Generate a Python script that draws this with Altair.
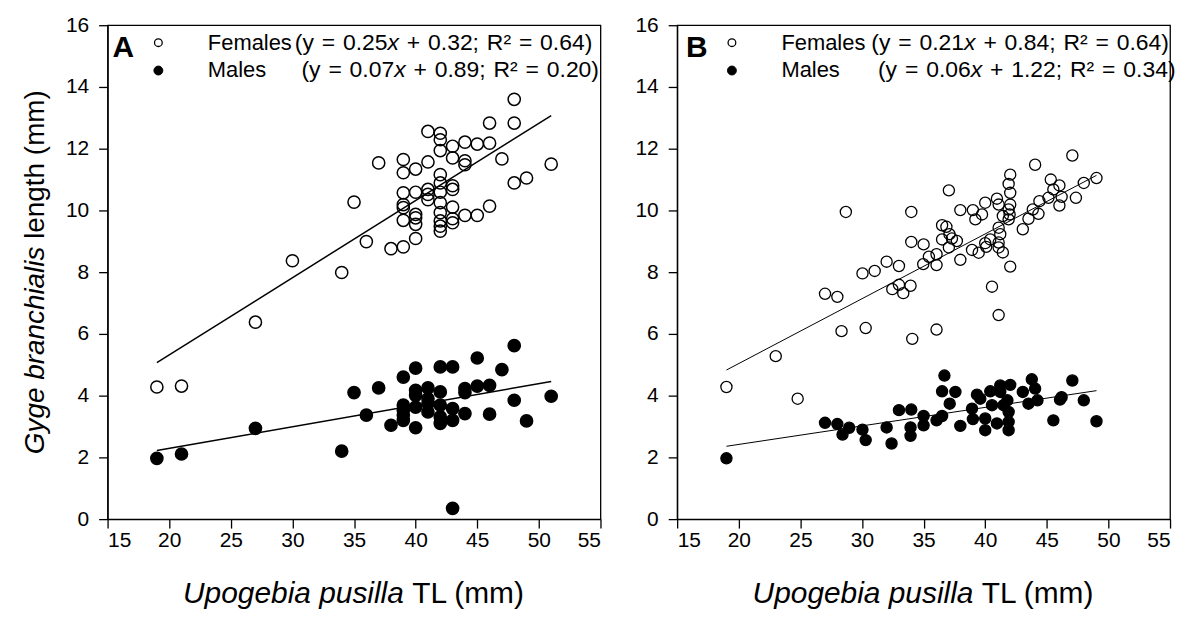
import altair as alt
import pandas as pd

# ---------------- data ----------------
# Panel A
a_fem_x = [48, 48, 46, 41, 42, 42, 42, 43, 44, 45, 46, 43, 44, 44, 47, 51, 37, 39, 39, 40,
           41, 42, 42, 42, 43, 43, 49, 48, 39, 40, 41, 41, 41, 39, 39, 42, 42, 43, 46, 35,
           40, 40, 40, 39, 42, 42, 42, 43, 43, 44, 45, 40, 36, 38, 39, 30, 34, 27, 19, 21]
a_fem_y = [13.6, 12.83, 12.83, 12.56, 12.5, 12.29, 11.94, 12.08, 12.21, 12.15, 12.18, 11.7, 11.61, 11.48,
           11.67, 11.5, 11.54, 11.65, 11.22, 11.34, 11.57, 11.16, 10.89, 10.59, 10.8, 10.68, 11.05, 10.89,
           10.57, 10.59, 10.68, 10.52, 10.35, 10.19, 10.09, 10.25, 9.93, 10.11, 10.14, 10.27, 9.87, 9.76,
           9.55, 9.68, 9.66, 9.49, 9.33, 9.73, 9.6, 9.84, 9.84, 9.09, 8.99, 8.76, 8.82, 8.37, 7.99, 6.38,
           4.28, 4.31]
a_mal_x = [19, 21, 27, 34, 35, 37, 36, 38, 39, 39, 39, 39, 39, 40, 40, 40, 40, 40, 41, 41, 41, 41,
           42, 42, 42, 42, 42, 43, 43, 43, 43, 44, 44, 44, 45, 45, 46, 46, 47, 48, 48, 49, 51]
a_mal_y = [1.97, 2.11, 2.94, 2.2, 4.1, 4.25, 3.37, 3.04, 4.6, 3.69, 3.53, 3.37, 3.2, 4.89, 4.17, 4.01,
           3.63, 2.96, 4.25, 3.9, 3.74, 3.47, 4.93, 4.12, 3.69, 3.31, 3.1, 4.93, 3.58, 3.2, 0.35, 4.23,
           4.1, 3.42, 5.22, 4.31, 4.33, 3.4, 4.84, 5.62, 3.85, 3.18, 3.98]

# Panel B
b_fem_x = [19.0, 23.0, 24.78, 27.0, 28.0, 28.34, 28.69, 30.3, 30.04, 31.03, 32.0, 33.0, 32.46, 33.0,
           33.35, 33.94, 34.08, 34.0, 34.0, 35.0, 34.97, 35.43, 36.05, 36.05, 36.05, 36.5, 36.85, 37.05,
           36.5, 37.1, 37.3, 37.7, 37.05, 37.98, 37.98, 39.0, 39.2, 39.74, 40.0, 38.93, 39.47, 40.0,
           40.08, 40.41, 40.95, 41.09, 41.09, 41.22, 41.09, 41.09, 41.43, 40.55, 41.09, 42.03, 41.9,
           42.03, 42.03, 41.9, 41.98, 41.9, 41.43, 42.03, 43.05, 43.51, 43.86, 44.32, 44.05, 44.4,
           45.13, 45.32, 45.53, 46.02, 46.2, 46.02, 47.07, 47.36, 48.0, 49.03]
b_fem_y = [4.28, 5.28, 3.9, 7.3, 7.2, 6.09, 9.95, 6.19, 7.96, 8.04, 8.34, 8.2, 7.45, 7.59, 7.32, 7.56,
           5.84, 9.95, 8.98, 8.9, 8.26, 8.5, 8.58, 8.23, 6.14, 9.52, 9.47, 10.65, 9.06, 9.23, 9.09, 9.01,
           8.8, 10.01, 8.4, 10.01, 9.71, 9.87, 10.25, 8.72, 8.63, 8.94, 8.82, 9.06, 10.38, 10.19, 9.44,
           9.23, 8.96, 8.8, 8.64, 7.53, 6.61, 11.16, 10.86, 10.57, 10.19, 10.03, 9.87, 9.71, 9.82, 8.18,
           9.39, 9.73, 10.03, 9.89, 11.48, 10.3, 10.41, 11.0, 10.68, 10.81, 10.44, 10.16, 11.78, 10.41,
           10.89, 11.05]
b_mal_x = [19.0, 27.0, 28.0, 28.42, 28.96, 30.04, 30.3, 32.0, 32.4, 33.0, 34.0, 33.94, 33.94, 35.0,
           35.0, 36.05, 36.5, 36.69, 36.5, 37.12, 37.58, 37.98, 38.93, 39.0, 39.33, 39.6, 40.0, 40.0,
           40.41, 40.55, 40.95, 41.22, 41.22, 41.49, 41.9, 41.9, 41.9, 42.03, 41.8, 43.05, 43.78, 44.05,
           43.51, 44.24, 45.53, 46.07, 46.2, 47.07, 48.0, 49.03]
b_mal_y = [1.97, 3.12, 3.08, 2.74, 2.96, 2.9, 2.56, 2.97, 2.45, 3.53, 3.55, 2.97, 2.7, 3.34, 3.04, 3.2,
           3.34, 4.65, 4.14, 3.74, 4.12, 3.02, 3.58, 3.24, 4.03, 3.9, 3.26, 2.88, 4.14, 3.69, 3.1, 4.33,
           4.12, 3.69, 3.47, 3.15, 2.88, 4.35, 3.85, 4.12, 4.53, 4.23, 3.74, 3.85, 3.2, 3.87, 3.95, 4.49,
           3.85, 3.17]

# regression equations shown in the legends (slope, intercept, R²)
a_fem_fit = (0.25, 0.32, "0.64")
a_mal_fit = (0.07, 0.89, "0.20")
b_fem_fit = (0.21, 0.84, "0.64")
b_mal_fit = (0.06, 1.22, "0.34")

x_ticks = [15, 20, 25, 30, 35, 40, 45, 50, 55]
y_ticks = [0, 2, 4, 6, 8, 10, 12, 14, 16]

# ---------------- style ----------------
FONT = "Liberation Sans"
W, H = 495, 496
XDOM, YDOM = [15, 55], [0, 16]
PXX = W / (XDOM[1] - XDOM[0])
PXY = H / (YDOM[1] - YDOM[0])
LEG_FS = 22
EQ_FS = 23
EQ_SP = 1.5
XT_FS = 30
YT_FS = 28

# Arial / Liberation Sans advance widths (per 1000 em)
CW = {' ': 278, '(': 333, ')': 333, '+': 584, '=': 584, '.': 278, ';': 278, 'y': 500, 'x': 500,
      'R': 722, '\u00b2': 333, 'F': 611, 'e': 556, 'm': 833, 'a': 556, 'l': 222, 's': 500, 'M': 833,
      'G': 778, 'g': 556, 'b': 556, 'r': 333, 'n': 556, 'c': 500, 'h': 556, 'i': 222, 't': 278,
      'U': 722, 'p': 556, 'o': 556, 'u': 556, 'T': 611, 'L': 556}


def tw(s, fs):
    return sum(CW.get(c, 556) for c in s) * fs / 1000.0


xs = alt.Scale(domain=XDOM, nice=False, zero=False)
ys = alt.Scale(domain=YDOM, nice=False, zero=False)
AXSTYLE = dict(title="", format="d", domainColor="black", domainWidth=1.3, tickColor="black",
               tickWidth=1.3, labelFont=FONT, labelFontSize=21, labelColor="black", grid=False)
XAX = alt.Axis(values=x_ticks, tickSize=9, labelPadding=2, **AXSTYLE)
YAX = alt.Axis(values=y_ticks, tickSize=9, labelPadding=10, **AXSTYLE)
one = pd.DataFrame({"x": [15.0], "y": [0.0]})


def xenc():
    return alt.X("x:Q", scale=xs, axis=XAX)


def yenc():
    return alt.Y("y:Q", scale=ys, axis=YAX)


def px_x(p):
    return XDOM[0] + p / PXX


def px_y(p):
    return YDOM[1] - p / PXY


def text_at(px, py, txt, fs, italic=False, bold=False, dx=0.0):
    df = pd.DataFrame({"x": [px_x(px)], "y": [px_y(py)]})
    return alt.Chart(df).mark_text(
        text=txt, font=FONT, fontSize=fs, align="left", baseline="alphabetic", dx=dx,
        fontStyle="italic" if italic else "normal", fontWeight="bold" if bold else "normal",
        color="black").encode(x=xenc(), y=yenc())


def rich(px, py, parts, fs, extra):
    """Write a line made of (text, italic) parts, word by word, with slightly wider spaces."""
    layers = []
    off = 0.0
    for s, it in parts:
        tokens = s.split(' ')
        for i, tok in enumerate(tokens):
            if i > 0:
                off += tw(' ', fs) + extra
            if tok:
                layers.append(text_at(px, py, tok, fs, italic=it, dx=off))
                off += tw(tok, fs)
    return layers


def eq_parts(fit):
    a, b, r2 = fit
    return [("(y = %.2f" % a, False), ("x", True), (" + %.2f; R\u00b2 = %s)" % (b, r2), False)]


def pix_text(txt, fs, xv, yv, italic=False, angle=None):
    kw = dict(text=txt, font=FONT, fontSize=fs, align="left", baseline="middle", color="black",
              fontStyle="italic" if italic else "normal")
    if angle is not None:
        kw["angle"] = angle
    return alt.Chart(one).mark_text(**kw).encode(x=alt.value(xv), y=alt.value(yv))


def panel(fx, fy, mx, my, ffit, mfit, letter, shift, eshift, psize, pstroke, lwidth, ytitle):
    fem = pd.DataFrame({"x": fx, "y": fy})
    mal = pd.DataFrame({"x": mx, "y": my})
    x0f, x1f = min(fx), max(fx)
    x0m, x1m = min(mx), max(mx)
    fline = pd.DataFrame({"x": [x0f, x1f], "y": [ffit[0] * x0f + ffit[1], ffit[0] * x1f + ffit[1]]})
    mline = pd.DataFrame({"x": [x0m, x1m], "y": [mfit[0] * x0m + mfit[1], mfit[0] * x1m + mfit[1]]})

    layers = [
        alt.Chart(fline).mark_line(color="black", strokeWidth=lwidth).encode(x=xenc(), y=yenc()),
        alt.Chart(mline).mark_line(color="black", strokeWidth=lwidth).encode(x=xenc(), y=yenc()),
        alt.Chart(fem).mark_point(shape="circle", filled=False, stroke="black", strokeWidth=pstroke,
                                  size=psize, opacity=1).encode(x=xenc(), y=yenc()),
        alt.Chart(mal).mark_point(shape="circle", filled=True, fill="black", stroke="black",
                                  strokeWidth=pstroke, size=psize, opacity=1).encode(x=xenc(), y=yenc()),
    ]
    s = shift
    leg_o = pd.DataFrame({"x": [px_x(51 + s)], "y": [px_y(17.5)]})
    leg_f = pd.DataFrame({"x": [px_x(51 + s)], "y": [px_y(45.5)]})
    layers.append(alt.Chart(leg_o).mark_point(shape="circle", filled=False, stroke="black",
                                              strokeWidth=1.3, size=60, opacity=1)
                  .encode(x=xenc(), y=yenc()))
    layers.append(alt.Chart(leg_f).mark_point(shape="circle", filled=True, fill="black",
                                              stroke="black", strokeWidth=1, size=80, opacity=1)
                  .encode(x=xenc(), y=yenc()))
    layers.append(text_at(5 + s, 32, letter, 30, bold=True))
    layers.append(text_at(100.7 + s, 24.5, "Females", LEG_FS))
    layers.append(text_at(100.7 + s, 52, "Males", LEG_FS))
    layers += rich(188 + eshift, 24.5, eq_parts(ffit), EQ_FS, EQ_SP)
    layers += rich(194.7 + eshift, 52, eq_parts(mfit), EQ_FS, EQ_SP)

    # x-axis title (mixed italic / roman)
    p1, p2 = "Upogebia pusilla", "TL (mm)"
    total = tw(p1 + " " + p2, XT_FS)
    start = W / 2 - total / 2
    layers.append(pix_text(p1, XT_FS, start, H + 75, italic=True))
    layers.append(pix_text(p2, XT_FS, start + tw(p1 + " ", XT_FS), H + 75))
    if ytitle:
        q1, q2 = "Gyge branchialis", "length (mm)"
        tot = tw(q1 + " " + q2, YT_FS)
        bottom = H / 2 + tot / 2
        pivot = bottom - tw(q1 + " ", YT_FS)
        layers.append(pix_text(q1, YT_FS, -72, bottom, italic=True, angle=270))
        layers.append(pix_text(q2, YT_FS, -72, pivot, angle=270))
    return alt.layer(*layers).properties(width=W, height=H)


pa = panel(a_fem_x, a_fem_y, a_mal_x, a_mal_y, a_fem_fit, a_mal_fit, "A", 0, 0, 150, 1.5, 1.5, True)
pb = panel(b_fem_x, b_fem_y, b_mal_x, b_mal_y, b_fem_fit, b_mal_fit, "B", 4, 7, 125, 1.3, 1.0, False)

chart = alt.hconcat(pa, pb, spacing=31).properties(
    padding={"left": 13, "top": 4, "right": 5, "bottom": 5}, background="white"
).configure_view(stroke="black", strokeWidth=1.3, fill="white")

chart.save("out.html", embed_options={"renderer": "svg", "actions": False})
